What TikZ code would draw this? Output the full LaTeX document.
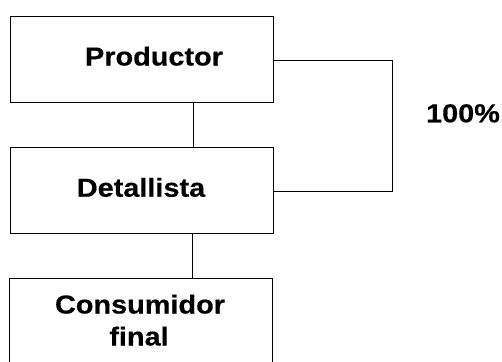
\documentclass[tikz,border=0pt]{standalone}
\usepackage{fontspec}
\newfontfamily\lblfont{Liberation Sans Bold}[FakeStretch=1.11,FakeBold=0.4]
\begin{document}
\begin{tikzpicture}[x=1pt,y=-1pt,
  box/.style={draw=black,line width=0.9pt,minimum width=263pt,minimum height=86pt,inner sep=0pt},
  lbl/.style={font=\lblfont\fontsize{26}{32}\selectfont,anchor=base,inner sep=0pt},
  link/.style={draw=black,line width=0.9pt}]
\path[use as bounding box] (0,0) rectangle (502,361);
\clip (0,0) rectangle (502,361);
% boxes
\node[box] (p) at (141.5,59) {};
\node[box] (d) at (141.5,190) {};
\node[box] (c) at (141,321) {};
% labels
\node[lbl] (pt) at (154,65.5) {Productor};
\node[lbl] (dt) at (141,196.7) {Detallista};
\node[lbl] (ct) at (140,313.5) {Consumidor};
\node[lbl] (ft) at (139,345.5) {final};
\node[lbl] (pct) at (463,122.3) {100\%};
% vertical links
\draw[link] (p.south -| 193,0) -- (d.north -| 193,0);
\draw[link] (d.south -| 192,0) -- (c.north -| 192,0);
% bracket on the right
\coordinate (b1) at (392,60);
\coordinate (b2) at (392,191);
\draw[link] (p.east |- b1) -- (b1) -- (b2) -- (d.east |- b2);
\end{tikzpicture}
\end{document}
